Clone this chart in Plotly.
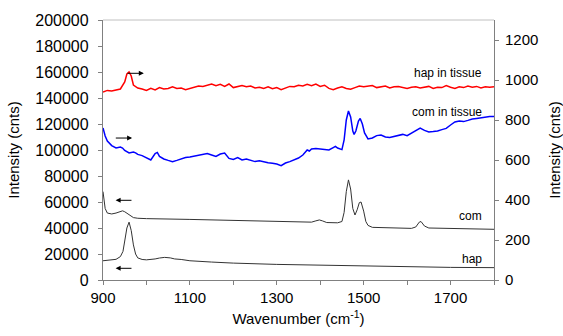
import plotly.graph_objects as go

# hap in tissue (right axis)
hapt_x = [900,910,920,930,940,950,955,960,965,970,980,990,1000,1010,1020,1030,1040,1050,1060,1070,1080,1090,1100,1110,1120,1130,1140,1150,1160,1170,1180,1190,1200,1210,1220,1230,1240,1250,1260,1270,1280,1290,1300,1310,1320,1330,1340,1350,1360,1370,1380,1390,1400,1410,1420,1430,1440,1450,1460,1470,1480,1490,1500,1510,1520,1530,1540,1550,1560,1570,1580,1590,1600,1610,1620,1630,1640,1650,1660,1670,1680,1690,1700,1710,1720,1730,1740,1750,1760,1770,1780,1790,1800]
hapt_y = [940,948,945,950,955,990,1030,1040,1020,975,960,955,948,958,950,962,955,958,966,958,960,952,958,964,970,968,974,980,972,978,968,980,962,966,972,966,970,960,964,958,966,956,962,952,960,968,966,974,970,978,972,980,968,974,958,952,960,966,958,954,962,970,966,968,972,962,966,970,960,966,968,962,958,964,966,960,964,968,958,964,962,972,964,958,966,962,970,964,968,960,966,964,966]

# com in tissue (right axis)
comt_x = [900,905,910,920,930,940,945,950,960,970,975,980,990,1000,1010,1020,1025,1030,1040,1050,1060,1070,1080,1090,1100,1110,1120,1130,1140,1150,1160,1170,1180,1190,1200,1210,1220,1230,1240,1250,1260,1270,1280,1290,1300,1310,1320,1330,1340,1350,1360,1370,1375,1380,1390,1400,1410,1420,1430,1435,1440,1450,1455,1460,1465,1470,1475,1478,1482,1488,1492,1497,1502,1510,1520,1530,1540,1550,1560,1570,1580,1590,1600,1610,1620,1630,1640,1650,1660,1670,1680,1690,1700,1710,1720,1730,1740,1750,1760,1770,1780,1790,1800]
comt_y = [760,720,695,672,660,665,660,648,635,640,636,628,622,612,600,632,638,618,605,598,592,598,605,612,615,620,625,628,632,625,618,630,635,608,603,612,600,605,598,592,596,590,586,584,580,572,585,592,600,610,625,650,645,655,658,656,654,650,662,668,660,652,700,800,845,815,745,728,745,795,808,780,735,705,710,722,725,715,712,718,722,728,722,735,748,760,748,740,742,745,752,758,775,790,795,792,798,805,808,812,815,818,817]

# com (left axis)
com_x = [900,902,905,910,920,930,940,945,950,960,970,980,1000,1100,1200,1300,1380,1390,1398,1405,1415,1440,1450,1455,1460,1465,1470,1475,1480,1485,1490,1494,1500,1505,1510,1520,1560,1610,1620,1628,1632,1640,1650,1700,1750,1800]
com_y = [68000,62000,55000,51500,50800,51500,53000,53200,52500,50000,48000,47500,47200,46600,45900,45200,44500,45500,46200,45500,44200,44000,45000,52000,68000,77000,70000,55000,50000,54000,59500,60000,53000,45000,42000,40500,40000,39700,40800,44500,45000,41500,40000,39800,39300,39000]

# hap (left axis)
hap_x = [900,920,930,940,946,950,955,960,965,970,975,980,990,1000,1010,1020,1030,1042,1055,1065,1080,1100,1150,1200,1300,1400,1450,1500,1600,1700,1800]
hap_y = [14800,15400,15900,18000,22000,30000,40000,44500,38000,27000,20000,17000,15800,15500,15600,16200,16900,17400,17000,16200,15800,14800,13800,13000,12000,11300,11000,10600,10100,9700,9500]

labels = ["hap in tissue", "com in tissue", "com", "hap"]
label_y = [159500, 129500, 49000, 16000]

FONT = "Liberation Sans, Arial, sans-serif"
fig = go.Figure()
fig.add_trace(go.Scatter(x=hapt_x, y=hapt_y, mode="lines", line=dict(color="#ff0000", width=1.5), yaxis="y2", showlegend=False))
fig.add_trace(go.Scatter(x=comt_x, y=comt_y, mode="lines", line=dict(color="#0000ff", width=1.5), yaxis="y2", showlegend=False))
fig.add_trace(go.Scatter(x=com_x, y=com_y, mode="lines", line=dict(color="#333333", width=1), showlegend=False))
fig.add_trace(go.Scatter(x=hap_x, y=hap_y, mode="lines", line=dict(color="#333333", width=1), showlegend=False))

for t, yv in zip(labels, label_y):
    fig.add_annotation(x=1776, y=yv, xref="x", yref="y", text=t, showarrow=False,
                       xanchor="right", yanchor="middle", font=dict(size=12, color="#000000", family=FONT))

# arrows: (tail_x, head_x, y)
arrows = [(953, 994, 159000), (926, 967, 109200), (969, 929, 61300), (969, 929, 9000)]
for tx, hx, yv in arrows:
    fig.add_annotation(x=hx, y=yv, ax=tx, ay=yv, xref="x", yref="y", axref="x", ayref="y",
                       text="", showarrow=True, arrowhead=2, arrowsize=1, arrowwidth=1, arrowcolor="#000000")

# light top border of the plot area
fig.add_shape(type="line", xref="paper", yref="paper", x0=0, x1=1, y0=1, y1=1,
              line=dict(color="#c0c0c0", width=1))

axcol = "#808080"
fig.update_layout(
    width=563, height=336,
    margin=dict(l=103, r=69, t=20, b=56, autoexpand=False),
    paper_bgcolor="white", plot_bgcolor="white",
    font=dict(family=FONT, size=15, color="#000000"),
    xaxis=dict(range=[900, 1800], tick0=900, dtick=200, ticks="outside", ticklen=4, tickcolor=axcol,
               showline=True, linecolor=axcol, linewidth=1, showgrid=False, zeroline=False, automargin=False,
               minor=dict(dtick=100, tick0=900, ticks="outside", ticklen=4, tickcolor=axcol, showgrid=False),
               title=dict(text="Wavenumber (cm<sup>-1</sup>)", font=dict(size=15), standoff=8)),
    yaxis=dict(range=[0, 200000], dtick=20000, ticks="outside", ticklen=4, tickcolor=axcol,
               showline=True, linecolor=axcol, linewidth=1.3, showgrid=False, zeroline=False, automargin=False,
               tickfont=dict(size=16), ticklabelstandoff=6,
               tickformat="d", title=dict(text="Intensity (cnts)", font=dict(size=15), standoff=12)),
    yaxis2=dict(range=[0, 1300], dtick=200, overlaying="y", side="right", ticks="outside", ticklen=4,
                tickcolor=axcol, showline=True, linecolor=axcol, linewidth=1, showgrid=False, zeroline=False,
                automargin=False, ticklabelstandoff=3,
                tickformat="d", title=dict(text="Intensity (cnts)", font=dict(size=15), standoff=14)),
)
fig.write_html("out.html", config={"displayModeBar": False}, post_script="document.body.style.margin='0';")
